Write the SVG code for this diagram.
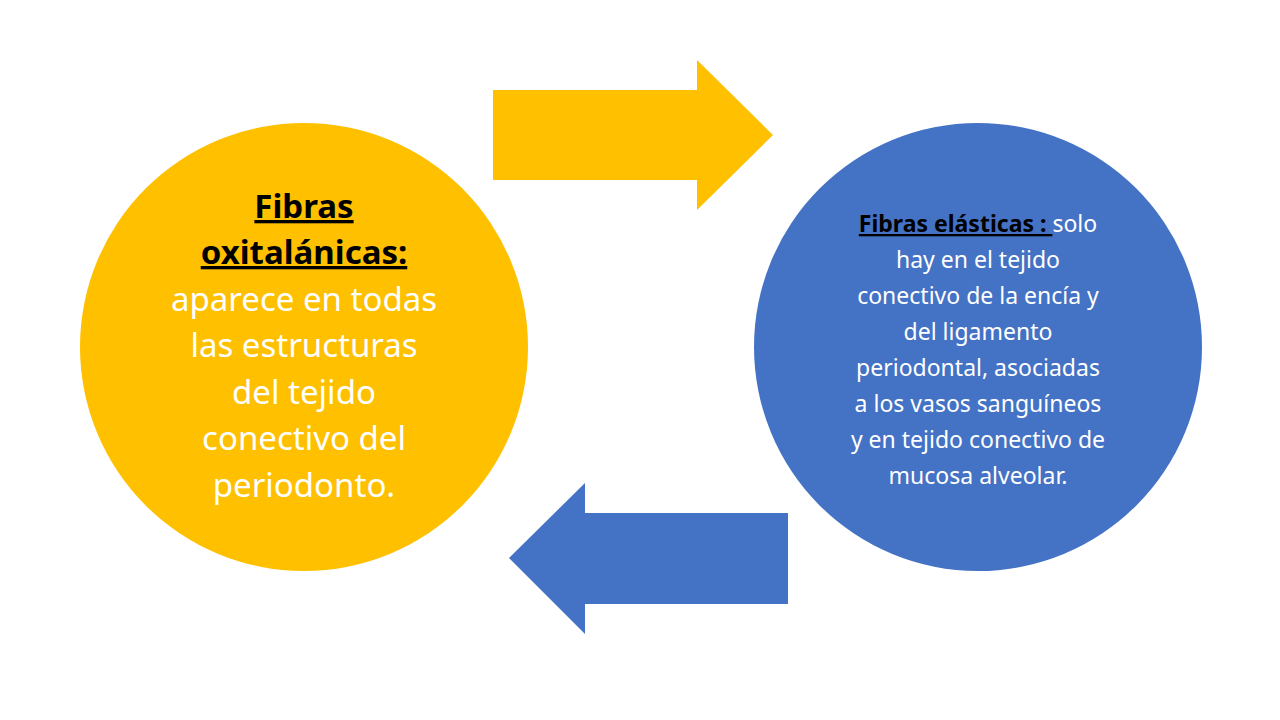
<svg xmlns="http://www.w3.org/2000/svg" width="1280" height="720" viewBox="0 0 1280 720">
<style>
.t{font-family:"Noto Sans","Open Sans",sans-serif;text-anchor:middle}
.l{font-size:33px}
.r{font-size:23px;fill:#fff}
.b{font-weight:bold;fill:#000;text-decoration:underline}
</style>
<rect width="1280" height="720" fill="#fff"/>
<g id="connectors">
<polygon points="493,90 697,90 697,60 773,135 697,210 697,180 493,180" fill="#FFC000"/>
<polygon points="788,513 585,513 585,483 509,558 585,634 585,604 788,604" fill="#4472C4"/>
</g>
<g id="left">
<circle cx="304" cy="347" r="224" fill="#FFC000"/>
<text class="t l"><tspan x="304" y="218" class="b">Fibras</tspan><tspan x="304" y="264" class="b">oxitalánicas:</tspan><tspan x="304" y="311" fill="#fff">aparece en todas</tspan><tspan x="304" y="357" fill="#fff">las estructuras</tspan><tspan x="304" y="404" fill="#fff">del tejido</tspan><tspan x="304" y="450" fill="#fff">conectivo del</tspan><tspan x="304" y="497" fill="#fff">periodonto.</tspan></text>
</g>
<g id="right">
<circle cx="978" cy="347" r="224" fill="#4472C4"/>
<text class="t r"><tspan x="978" y="232"><tspan class="b">Fibras elásticas : </tspan>solo</tspan><tspan x="978" y="268">hay en el tejido</tspan><tspan x="978" y="304">conectivo de la encía y</tspan><tspan x="978" y="340">del ligamento</tspan><tspan x="978" y="376">periodontal, asociadas</tspan><tspan x="978" y="412">a los vasos sanguíneos</tspan><tspan x="978" y="448">y en tejido conectivo de</tspan><tspan x="978" y="484">mucosa alveolar.</tspan></text>
</g>
</svg>
